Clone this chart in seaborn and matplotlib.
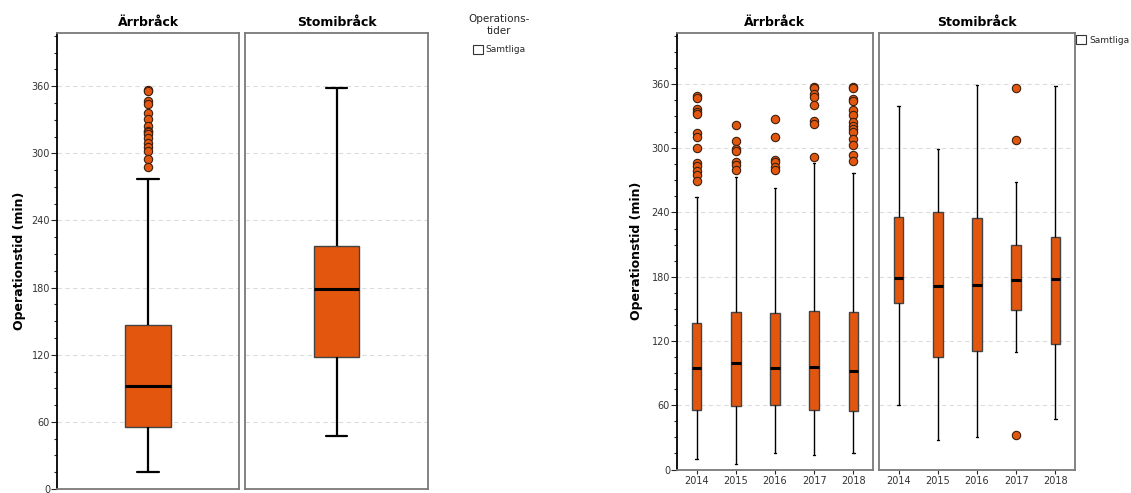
import matplotlib
matplotlib.use("Agg")
import matplotlib.pyplot as plt
from matplotlib.patches import Patch
from matplotlib.ticker import MultipleLocator
import seaborn as sns
import pandas as pd

# five-number summaries: lower whisker, Q1, median, Q3, upper whisker
groups = ["Ärrbråck", "Stomibråck"]
years = ["2014", "2015", "2016", "2017", "2018"]

total_arr = [15, 55, 92, 147, 277]
total_stomi = [47, 118, 179, 217, 358]
total_arr_out = [357, 356, 347, 344, 336, 331, 324, 320, 319, 317, 314, 309, 306, 302, 295, 288]
total_stomi_out = []

year_arr = [
    [10, 56, 95, 137, 254],
    [5, 59, 99, 147, 273],
    [15, 60, 95, 146, 263],
    [14, 56, 96, 148, 286],
    [15, 55, 92, 147, 277],
]
year_stomi = [
    [60, 155, 179, 236, 339],
    [28, 105, 171, 240, 299],
    [30, 111, 172, 235, 359],
    [110, 149, 177, 210, 268],
    [47, 117, 178, 217, 358],
]
year_arr_out = [
    [349, 347, 337, 334, 332, 314, 310, 300, 286, 283, 279, 275, 269],
    [322, 307, 299, 297, 287, 284, 280],
    [327, 310, 289, 287, 282, 280],
    [357, 356, 351, 348, 340, 325, 323, 292],
    [357, 356, 346, 344, 336, 331, 324, 321, 318, 315, 309, 303, 294, 288],
]
year_stomi_out = [[], [], [], [356, 308, 32], []]

orange = "#E3560E"
frame_gray = "#7a7a7a"

sns.set_style("white")
plt.rcParams["font.family"] = ["DejaVu Sans"]


def long_table(label, summaries, outliers):
    rows, out_rows = [], []
    for cat, s, o in zip(label, summaries, outliers):
        rows += [{"cat": cat, "tid": v} for v in s]
        out_rows += [{"cat": cat, "tid": v} for v in o]
    return pd.DataFrame(rows), pd.DataFrame(out_rows, columns=["cat", "tid"])


def draw_panel(ax, cats, summaries, outliers, width, whisk_lw, cap_w, title, first):
    box_df, out_df = long_table(cats, summaries, outliers)
    sns.boxplot(data=box_df, x="cat", y="tid", order=cats, ax=ax, whis=(0, 100),
                width=width, showfliers=False, color=orange, saturation=1,
                boxprops=dict(facecolor=orange, edgecolor="#444444", linewidth=1.0),
                medianprops=dict(color="black", linewidth=2.2),
                whiskerprops=dict(color="black", linewidth=whisk_lw),
                capprops=dict(color="black", linewidth=whisk_lw),
                capwidths=cap_w)
    if len(out_df):
        sns.stripplot(data=out_df, x="cat", y="tid", order=cats, ax=ax, jitter=False,
                      color=orange, size=6, linewidth=0.8, edgecolor="#3a2010")
    ax.set_xlim(-0.5, len(cats) - 0.5)
    ax.set_ylim(0, 408)
    ax.yaxis.set_major_locator(MultipleLocator(60))
    ax.yaxis.set_minor_locator(MultipleLocator(15))
    ax.yaxis.grid(True, which="major", linestyle=(0, (4, 3)), color="#dcdcdc", linewidth=0.8)
    ax.set_axisbelow(True)
    ax.set_xlabel("")
    ax.set_ylabel("")
    ax.set_title(title, fontsize=9, fontweight="bold", pad=5, color="black")
    for sp in ax.spines.values():
        sp.set_visible(True)
        sp.set_color(frame_gray)
        sp.set_linewidth(1.3)
    if first:
        ax.spines["left"].set_color("black")
        ax.tick_params(axis="y", which="major", left=True, length=4, width=0.8,
                       labelsize=7, labelcolor="#333333", pad=1)
        ax.tick_params(axis="y", which="minor", left=True, length=2.5, width=0.8)
    else:
        ax.tick_params(axis="y", which="both", left=False, labelleft=False)


fig = plt.figure(figsize=(11.31, 4.93), dpi=100)
W, H = 1131, 493


def add_ax(x0, x1, top, bottom):
    return fig.add_axes([x0 / W, (H - bottom) / H, (x1 - x0) / W, (bottom - top) / H])


# left chart: all years
ax1 = add_ax(57, 239, 32.5, 489)
ax2 = add_ax(245, 428, 32.5, 489)
draw_panel(ax1, ["Samtliga"], [total_arr], [total_arr_out], 0.25, 1.6, 0.12, groups[0], True)
draw_panel(ax2, ["Samtliga"], [total_stomi], [total_stomi_out], 0.25, 1.6, 0.12, groups[1], False)
for ax in (ax1, ax2):
    ax.tick_params(axis="x", bottom=False, labelbottom=False)
ax1.set_ylabel("Operationstid (min)", fontsize=9, fontweight="bold", labelpad=4, color="black")

# right chart: per year
ax3 = add_ax(677, 873, 32.5, 469.5)
ax4 = add_ax(879, 1075, 32.5, 469.5)
draw_panel(ax3, years, year_arr, year_arr_out, 0.24, 1.0, 0.06, groups[0], True)
draw_panel(ax4, years, year_stomi, year_stomi_out, 0.24, 1.0, 0.06, groups[1], False)
for ax in (ax3, ax4):
    ax.tick_params(axis="x", bottom=True, length=3, width=0.8, labelsize=7,
                   labelcolor="#333333", pad=2)
ax3.set_ylabel("Operationstid (min)", fontsize=9, fontweight="bold", labelpad=6, color="black")

handle = [Patch(facecolor="white", edgecolor="#333333", linewidth=0.8)]
leg1 = fig.legend(handle, ["Samtliga"], title="Operations-\ntider", loc="upper left",
                  bbox_to_anchor=(462 / W, 1 - 8 / H), frameon=False, fontsize=6.5,
                  title_fontsize=7.5, handlelength=1.1, handleheight=1.1,
                  handletextpad=0.3, borderpad=0.2, labelspacing=1.0)
leg1.get_title().set_multialignment("center")
fig.legend(handle, ["Samtliga"], loc="upper left", bbox_to_anchor=(1070 / W, 1 - 29 / H),
           frameon=False, fontsize=6.5, handlelength=1.1, handleheight=1.1,
           handletextpad=0.3, borderpad=0.2)

fig.savefig("out.png", dpi=100)
